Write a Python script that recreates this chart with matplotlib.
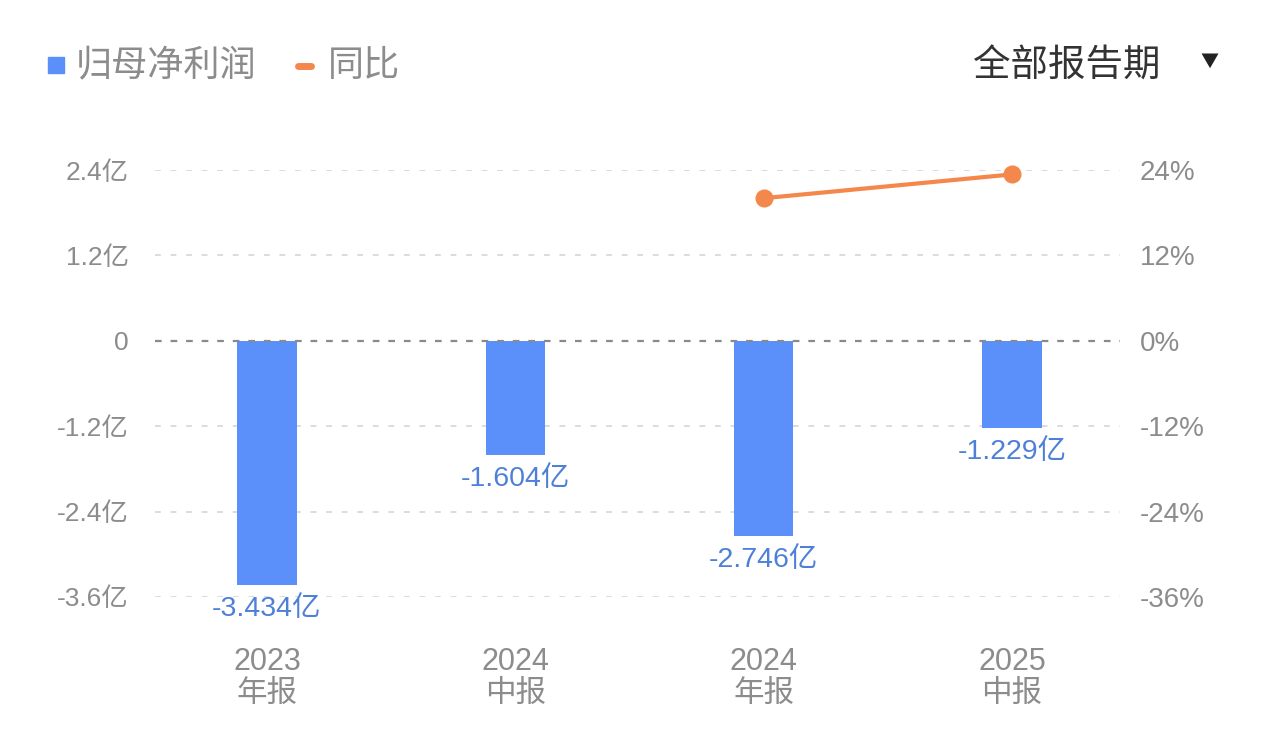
import matplotlib.pyplot as plt
import numpy as np

plt.rcParams['font.family'] = ['Noto Sans CJK SC', 'DejaVu Sans']
num_font = ['Liberation Sans', 'Noto Sans CJK SC', 'DejaVu Sans']

# data (亿元 / %)
periods = ['2023\n年报', '2024\n中报', '2024\n年报', '2025\n中报']
profit = np.array([-3.434, -1.604, -2.746, -1.229])
yoy = np.array([np.nan, np.nan, 20.04, 23.38])
left_ticks = [-3.6, -2.4, -1.2, 0, 1.2, 2.4]
left_labels = ['-3.6亿', '-2.4亿', '-1.2亿', '0', '1.2亿', '2.4亿']
right_ticks = [-36, -24, -12, 0, 12, 24]
right_labels = ['-36%', '-24%', '-12%', '0%', '12%', '24%']

bar_color = '#5B8FF9'
line_color = '#F4874B'
label_blue = '#4E80D8'
tick_gray = '#8C8C8C'

W, H = 1268, 732
fig = plt.figure(figsize=(W / 100, H / 100), dpi=100)
ax = fig.add_axes([155 / W, 1 - 597 / H, (1120 - 155) / W, (597 - 170) / H])
ax2 = ax.twinx()

x = np.arange(len(periods))
ax.bar(x, profit, width=0.24, color=bar_color, zorder=3)

# grid lines
for t in left_ticks:
    if t == 0:
        ax.axhline(t, color='#8a8a8a', lw=1.6, ls=(0, (3, 4)), zorder=4)
    else:
        ax.axhline(t, color='#dcdcdc', lw=1.4, ls=(0, (3, 5)), zorder=1)

for xi, v in zip(x, profit):
    ax.annotate(f'{v:.3f}亿', (xi, v), xytext=(0, -8), textcoords='offset points',
                ha='center', va='top', fontsize=20.5, color=label_blue, family=num_font)

ax.set_xlim(-0.451, 3.435)
ax.set_ylim(-3.6, 2.4)
ax.set_yticks(left_ticks)
ax.set_yticklabels(left_labels, family=num_font)
ax.set_xticks(x)
ax.set_xticklabels(periods, linespacing=1.08, family=num_font)
ax.tick_params(axis='y', length=0, pad=19, labelsize=19, labelcolor=tick_gray)
ax.tick_params(axis='x', length=0, pad=36, labelsize=22, labelcolor=tick_gray)

ax2.plot(x, yoy, color=line_color, lw=3, marker='o', ms=12, zorder=5, clip_on=False)
ax2.set_ylim(-36, 24)
ax2.set_yticks(right_ticks)
ax2.set_yticklabels(right_labels, family=num_font)
ax2.tick_params(axis='y', length=0, pad=14, labelsize=20, labelcolor=tick_gray)

for a in (ax, ax2):
    for s in a.spines.values():
        s.set_visible(False)

# legend and period selector
fig.patches.append(plt.Rectangle((48 / W, 1 - 73 / H), 16 / W, 16 / H,
                                 transform=fig.transFigure, color=bar_color, figure=fig))
fig.text(76 / W, 1 - 66 / H, '归母净利润', fontsize=26, color=tick_gray, va='center', ha='left')
fig.lines.append(plt.Line2D([298 / W, 311 / W], [1 - 66 / H, 1 - 66 / H], lw=5,
                            color=line_color, solid_capstyle='round',
                            transform=fig.transFigure, figure=fig))
fig.text(328 / W, 1 - 66 / H, '同比', fontsize=26, color=tick_gray, va='center', ha='left')
fig.text(1160 / W, 1 - 66 / H, '全部报告期', fontsize=27, color='#333333', va='center', ha='right')
fig.text(1209 / W, 1 - 62 / H, '▼', fontsize=13, color='#222222', va='center', ha='center')

fig.savefig('out.png', dpi=100, facecolor='white')
